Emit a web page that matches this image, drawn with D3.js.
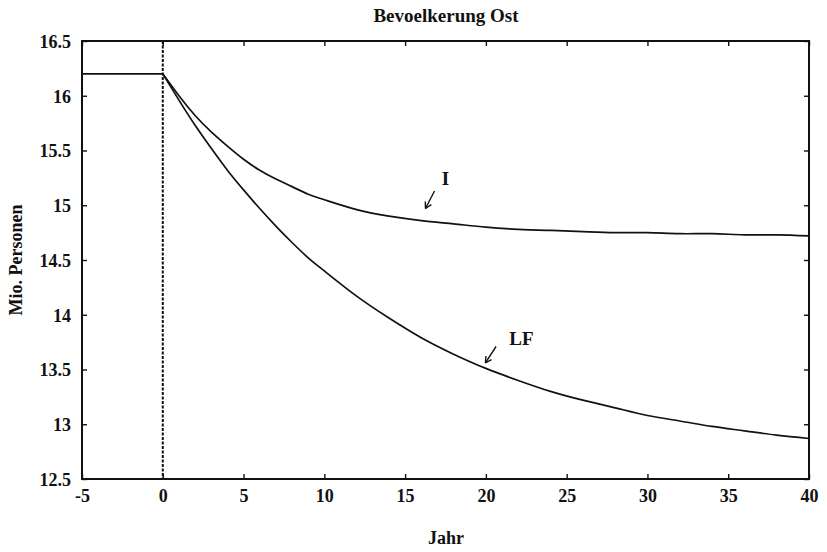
<!DOCTYPE html>
<html><head><meta charset="utf-8">
<script src="https://cdn.jsdelivr.net/npm/d3@7"></script>
<style>
html,body{margin:0;padding:0;background:#fff;}
svg{display:block;}
text{font-family:"Liberation Serif","Times New Roman",serif;font-weight:bold;fill:#111;}
</style></head>
<body>
<svg id="chart" width="827" height="552"></svg>
<script>
// ---- data ----
const title = "Bevoelkerung Ost";
const xLabel = "Jahr";
const yLabel = "Mio. Personen";
const xTicks = [-5, 0, 5, 10, 15, 20, 25, 30, 35, 40];
const yTicks = [12.5, 13, 13.5, 14, 14.5, 15, 15.5, 16, 16.5];
const preYears = [-5, 0];
const preValues = [16.2, 16.2];
const years = [0,1,2,3,4,5,6,7,8,9,10,12,14,16,18,20,22,24,26,28,30,32,34,36,38,40];
const seriesI = [16.20,16.00,15.82,15.67,15.54,15.42,15.32,15.24,15.17,15.10,15.05,14.96,14.90,14.86,14.83,14.80,14.78,14.77,14.76,14.75,14.75,14.74,14.74,14.73,14.73,14.72];
const seriesLF = [16.20,15.96,15.73,15.52,15.32,15.14,14.97,14.81,14.66,14.52,14.40,14.17,13.97,13.79,13.64,13.51,13.40,13.30,13.22,13.15,13.08,13.03,12.98,12.94,12.90,12.87];
const shockYear = 0;
// annotations: label position and arrow (data coords)
const annotations = [
  {label: "I",  lx: 17.5, ly: 15.25, ax1: 16.82, ay1: 15.13, ax2: 16.26, ay2: 14.97},
  {label: "LF", lx: 22.2, ly: 13.78, ax1: 20.63, ay1: 13.71, ax2: 19.97, ay2: 13.56}
];

// ---- layout ----
const svg = d3.select("#chart");
const L = 82, R = 809, T = 41, B = 479;
const x = d3.scaleLinear().domain([-5, 40]).range([L, R]);
const y = d3.scaleLinear().domain([12.5, 16.5]).range([B, T]);

// axes (ticks inward)
const fs = 18;
const gB = svg.append("g").attr("transform", `translate(0,${B})`)
  .call(d3.axisBottom(x).tickValues(xTicks).tickSizeInner(-5).tickSizeOuter(0).tickPadding(12).tickFormat(d => String(d)));
const gT = svg.append("g").attr("transform", `translate(0,${T})`)
  .call(d3.axisTop(x).tickValues(xTicks).tickSizeInner(-5).tickSizeOuter(0).tickFormat(""));
const gL = svg.append("g").attr("transform", `translate(${L},0)`)
  .call(d3.axisLeft(y).tickValues(yTicks).tickSizeInner(-5).tickSizeOuter(0).tickPadding(11).tickFormat(d => String(d)));
const gR = svg.append("g").attr("transform", `translate(${R},0)`)
  .call(d3.axisRight(y).tickValues(yTicks).tickSizeInner(-5).tickSizeOuter(0).tickFormat(""));
[gB, gT, gL, gR].forEach(g => {
  g.selectAll(".domain").remove();
  g.selectAll(".tick line").attr("stroke", "#111").attr("stroke-width", 1.4);
  g.selectAll("text").attr("font-size", fs).attr("font-family", "Liberation Serif").attr("font-weight", "bold").attr("fill", "#111");
});
gB.selectAll("text").attr("dy", "0.6em");
gL.selectAll("text").attr("dy", "0.35em");

// frame
svg.append("rect").attr("x", L).attr("y", T).attr("width", R - L).attr("height", B - T)
  .attr("fill", "none").attr("stroke", "#111").attr("stroke-width", 2);

// dashed vertical line at shock year
svg.append("line").attr("x1", x(shockYear)).attr("x2", x(shockYear)).attr("y1", y(16.5)).attr("y2", y(12.5))
  .attr("stroke", "#111").attr("stroke-width", 2).attr("stroke-dasharray", "3,1.5");

const flat = d3.line().x(d => x(d[0])).y(d => y(d[1]));
const line = d3.line().x(d => x(d[0])).y(d => y(d[1])).curve(d3.curveNatural);
svg.append("path").datum(preYears.map((t, i) => [t, preValues[i]])).attr("d", flat)
  .attr("fill", "none").attr("stroke", "#111").attr("stroke-width", 1.7);
svg.append("path").datum(years.map((t, i) => [t, seriesI[i]])).attr("d", line)
  .attr("fill", "none").attr("stroke", "#111").attr("stroke-width", 1.7);
svg.append("path").datum(years.map((t, i) => [t, seriesLF[i]])).attr("d", line)
  .attr("fill", "none").attr("stroke", "#111").attr("stroke-width", 1.7);

// annotations
annotations.forEach(a => {
  svg.append("text").attr("x", x(a.lx)).attr("y", y(a.ly)).attr("text-anchor", "middle")
    .attr("dy", "0.35em").attr("font-size", 19).text(a.label);
  const x1 = x(a.ax1), y1 = y(a.ay1), x2 = x(a.ax2), y2 = y(a.ay2);
  svg.append("line").attr("x1", x1).attr("y1", y1).attr("x2", x2).attr("y2", y2)
    .attr("stroke", "#111").attr("stroke-width", 1.4);
  const ang = Math.atan2(y2 - y1, x2 - x1), hl = 7;
  [0.5, -0.5].forEach(s => {
    svg.append("line").attr("x1", x2).attr("y1", y2)
      .attr("x2", x2 - hl * Math.cos(ang + s)).attr("y2", y2 - hl * Math.sin(ang + s))
      .attr("stroke", "#111").attr("stroke-width", 1.4);
  });
});

// titles
svg.append("text").attr("x", 446).attr("y", 22).attr("text-anchor", "middle")
  .attr("font-size", 19).text(title);
svg.append("text").attr("x", 446).attr("y", 544).attr("text-anchor", "middle")
  .attr("font-size", 18).text(xLabel);
svg.append("text").attr("transform", `translate(22,${(T + B) / 2}) rotate(-90)`).attr("text-anchor", "middle")
  .attr("font-size", 18).text(yLabel);
</script>
</body></html>
